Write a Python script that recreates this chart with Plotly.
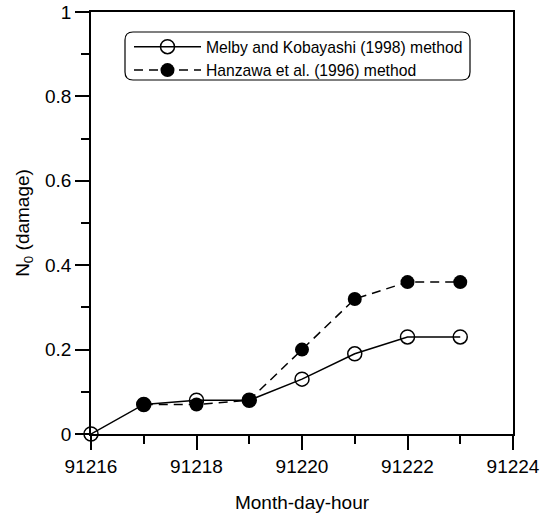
import plotly.graph_objects as go

hours_melby = [91216, 91217, 91218, 91219, 91220, 91221, 91222, 91223]
damage_melby = [0.0, 0.07, 0.08, 0.08, 0.13, 0.19, 0.23, 0.23]
hours_hanzawa = [91217, 91218, 91219, 91220, 91221, 91222, 91223]
damage_hanzawa = [0.07, 0.07, 0.08, 0.20, 0.32, 0.36, 0.36]

FONT = "Liberation Sans, Arial, sans-serif"

fig = go.Figure()
fig.add_trace(go.Scatter(
    x=hours_melby, y=damage_melby, mode="lines+markers",
    name="Melby and Kobayashi (1998) method",
    line=dict(color="black", width=1.5, dash="solid"),
    marker=dict(symbol="circle-open", size=14, color="black", line=dict(width=1.5, color="black")),
    cliponaxis=False,
))
fig.add_trace(go.Scatter(
    x=hours_hanzawa, y=damage_hanzawa, mode="lines+markers",
    name="Hanzawa et al. (1996) method",
    line=dict(color="black", width=1.5, dash="9px,6px"),
    marker=dict(symbol="circle", size=14, color="black"),
    cliponaxis=False,
))

L, R, T, B = 91, 513, 12, 434
W, H = R - L, B - T

def px(xp):
    return (xp - L) / W

def py(yp):
    return (B - yp) / H

# rounded legend frame (paper coords)
x0, x1, y0, y1, r = 125, 470, 32, 80, 8
path = (f"M{px(x0 + r)},{py(y0)} L{px(x1 - r)},{py(y0)} "
        f"Q{px(x1)},{py(y0)} {px(x1)},{py(y0 + r)} L{px(x1)},{py(y1 - r)} "
        f"Q{px(x1)},{py(y1)} {px(x1 - r)},{py(y1)} L{px(x0 + r)},{py(y1)} "
        f"Q{px(x0)},{py(y1)} {px(x0)},{py(y1 - r)} L{px(x0)},{py(y0 + r)} "
        f"Q{px(x0)},{py(y0)} {px(x0 + r)},{py(y0)} Z")
fig.add_shape(type="path", path=path, xref="paper", yref="paper",
              line=dict(color="black", width=1.2), layer="above")

axis_common = dict(
    showline=True, linecolor="black", linewidth=1.5, mirror=True,
    ticks="outside", ticklen=14, tickwidth=1.5, tickcolor="black",
    showgrid=False, zeroline=False, automargin=False,
    tickfont=dict(family=FONT, size=19, color="black"),
)

fig.update_layout(
    width=550, height=515,
    margin=dict(l=L, r=550 - R, t=T, b=515 - B, autoexpand=False),
    paper_bgcolor="white", plot_bgcolor="white",
    font=dict(family=FONT, color="black"),
    showlegend=True,
    legend=dict(
        x=px(129), y=py(30), xanchor="left", yanchor="top",
        bgcolor="rgba(0,0,0,0)", borderwidth=0,
        font=dict(family=FONT, size=15.7, color="black"),
        itemwidth=67, tracegroupgap=0,
    ),
    xaxis=dict(
        range=[91216, 91224], dtick=2, tick0=91216,
        tickformat="d",
        minor=dict(dtick=1, ticks="outside", ticklen=8, tickwidth=1.5, tickcolor="black"),
        title=dict(text="Month-day-hour", font=dict(family=FONT, size=19, color="black"), standoff=20),
        **axis_common,
    ),
    yaxis=dict(
        range=[0, 1], dtick=0.2, tick0=0,
        tickformat="~g",
        minor=dict(dtick=0.1, ticks="outside", ticklen=8, tickwidth=1.5, tickcolor="black"),
        title=dict(text="N<sub>0</sub> (damage)", font=dict(family=FONT, size=19, color="black"), standoff=10),
        **axis_common,
    ),
)

fig.write_html("out.html")
